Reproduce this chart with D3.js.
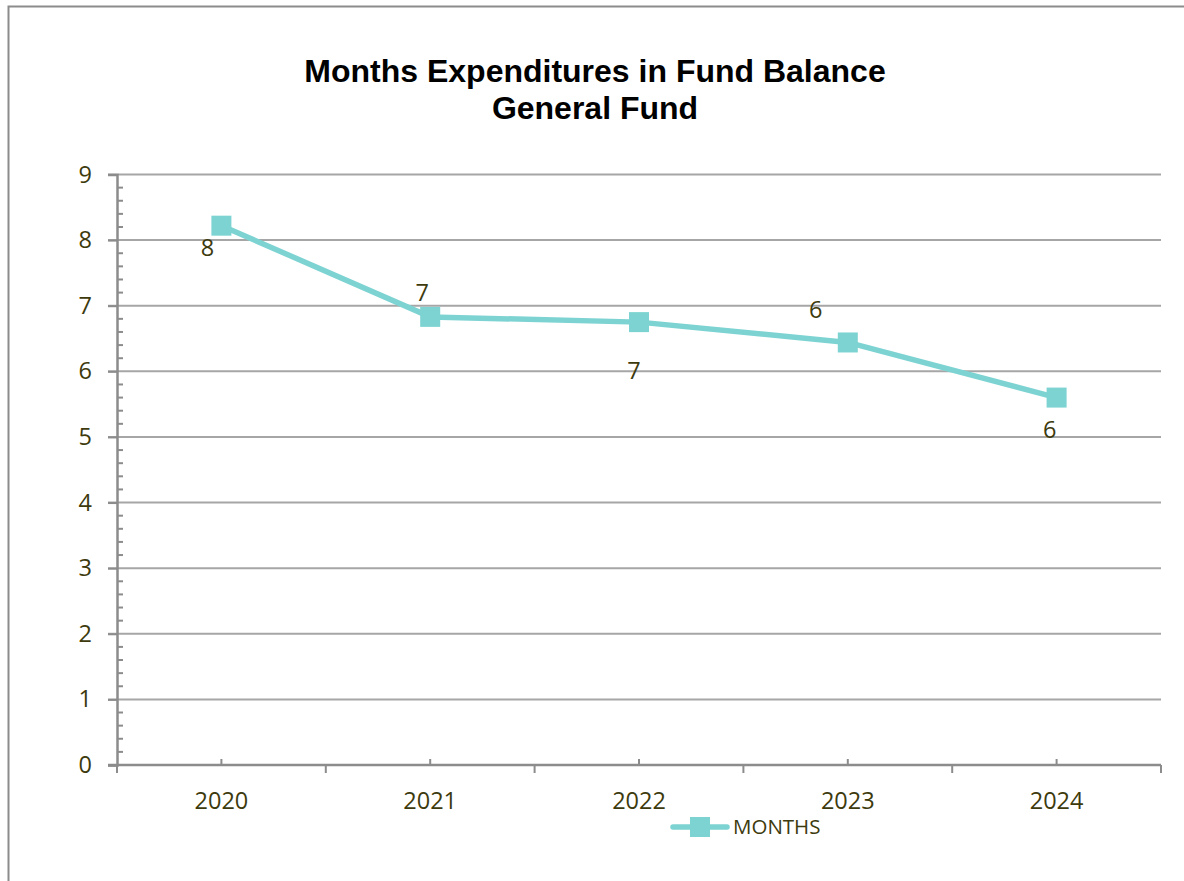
<!DOCTYPE html>
<html>
<head>
<meta charset="utf-8">
<script src="https://cdn.jsdelivr.net/npm/d3@7"></script>
<style>
  html, body { margin: 0; padding: 0; background: #fff; }
  svg { display: block; }
</style>
</head>
<body>
<svg id="chart" width="1184" height="881"></svg>
<script>
// ---- data ----
const categories = ["2020", "2021", "2022", "2023", "2024"];
const months = [8.22, 6.83, 6.75, 6.44, 5.60];
const dataLabels = ["8", "7", "7", "6", "6"];
const yTicks = [0, 1, 2, 3, 4, 5, 6, 7, 8, 9];
const seriesName = "MONTHS";
const titleLines = ["Months Expenditures in Fund Balance", "General Fund"];

// ---- style ----
const lineColor = "#7dd3d2";
const textColor = "#3d3a0e";
const gridColor = "#a6a6a6";
const axisColor = "#8c8c8c";
const font = "'Open Sans', 'DejaVu Sans', sans-serif";
const titleFont = "'Liberation Sans', Arial, sans-serif";
// per-point label offsets (dx, dy of label centre relative to marker)
const labelOffsets = [[-14, 22], [-8, -24], [-5, 49], [-32, -33], [-7, 32]];

const svg = d3.select("#chart");

// outer chart border
svg.append("path")
  .attr("d", "M8.5,881 L8.5,6.5 L1184,6.5")
  .attr("fill", "none").attr("stroke", "#8c8c8c").attr("stroke-width", 2);

const plot = { left: 117, right: 1161, top: 174.5, bottom: 765 };

const x = d3.scaleBand().domain(categories).range([plot.left, plot.right]).paddingInner(0).paddingOuter(0);
const y = d3.scaleLinear().domain([0, 9]).range([plot.bottom, plot.top]);

// title
svg.append("g").selectAll("text").data(titleLines).join("text")
  .attr("x", 595).attr("y", (d, i) => 82 + i * 37)
  .attr("text-anchor", "middle")
  .attr("font-family", titleFont).attr("font-weight", "bold").attr("font-size", 32)
  .attr("fill", "#000").text(d => d);

// gridlines
svg.append("g").selectAll("line").data(yTicks.filter(d => d > 0)).join("line")
  .attr("x1", plot.left - 9).attr("x2", plot.right)
  .attr("y1", d => y(d)).attr("y2", d => y(d))
  .attr("stroke", gridColor).attr("stroke-width", 2);

// y minor ticks (inside)
const minor = d3.range(0, 9.001, 0.2).filter(v => Math.abs(v - Math.round(v)) > 1e-6);
svg.append("g").selectAll("line").data(minor).join("line")
  .attr("x1", plot.left).attr("x2", plot.left + 6)
  .attr("y1", d => y(d)).attr("y2", d => y(d))
  .attr("stroke", axisColor).attr("stroke-width", 2);

// y axis
const yAxis = d3.axisLeft(y).tickValues(yTicks).tickSize(9).tickPadding(16).tickFormat(d3.format("d"));
const yg = svg.append("g").attr("transform", `translate(${plot.left},0)`).call(yAxis);
yg.select(".domain").attr("stroke", axisColor).attr("stroke-width", 2.5);
yg.selectAll(".tick line").attr("stroke", axisColor).attr("stroke-width", 2);
yg.selectAll(".tick text").attr("font-family", font).attr("font-size", 23.5).attr("fill", textColor);

// x axis: major ticks at category boundaries (outside), minor at centres (inside)
const xg = svg.append("g").attr("transform", `translate(0,${plot.bottom})`);
xg.append("line").attr("x1", plot.left - 9).attr("x2", plot.right)
  .attr("y1", 0).attr("y2", 0).attr("stroke", axisColor).attr("stroke-width", 2.5);
const bounds = categories.map(c => x(c)).concat([x(categories[categories.length - 1]) + x.bandwidth()]);
xg.selectAll("line.major").data(bounds).join("line").attr("class", "major")
  .attr("x1", d => d).attr("x2", d => d).attr("y1", 0).attr("y2", 8)
  .attr("stroke", axisColor).attr("stroke-width", 2);
xg.selectAll("line.minor").data(categories).join("line").attr("class", "minor")
  .attr("x1", d => x(d) + x.bandwidth() / 2).attr("x2", d => x(d) + x.bandwidth() / 2)
  .attr("y1", 0).attr("y2", -6)
  .attr("stroke", axisColor).attr("stroke-width", 2);
xg.selectAll("text").data(categories).join("text")
  .attr("x", d => x(d) + x.bandwidth() / 2).attr("y", 44)
  .attr("text-anchor", "middle")
  .attr("font-family", font).attr("font-size", 23.5).attr("fill", textColor)
  .text(d => d);

// series line
const cx = (d, i) => x(categories[i]) + x.bandwidth() / 2;
const line = d3.line().x((d, i) => cx(d, i)).y(d => y(d));
svg.append("path").datum(months)
  .attr("d", line).attr("fill", "none")
  .attr("stroke", lineColor).attr("stroke-width", 5.5).attr("stroke-linejoin", "round");

// markers
svg.append("g").selectAll("rect").data(months).join("rect")
  .attr("x", (d, i) => cx(d, i) - 10).attr("y", d => y(d) - 10)
  .attr("width", 20).attr("height", 20)
  .attr("fill", lineColor);

// data labels
svg.append("g").selectAll("text").data(months).join("text")
  .attr("x", (d, i) => cx(d, i) + labelOffsets[i][0])
  .attr("y", (d, i) => y(d) + labelOffsets[i][1])
  .attr("dy", "0.35em")
  .attr("text-anchor", "middle")
  .attr("font-family", font).attr("font-size", 23.5).attr("fill", textColor)
  .text((d, i) => dataLabels[i]);

// legend
const lg = svg.append("g").attr("transform", "translate(700,827)");
lg.append("line").attr("x1", -27).attr("x2", 27).attr("y1", 0).attr("y2", 0)
  .attr("stroke", lineColor).attr("stroke-width", 5.5).attr("stroke-linecap", "round");
lg.append("rect").attr("x", -10).attr("y", -10).attr("width", 20).attr("height", 20).attr("fill", lineColor);
lg.append("text").attr("x", 33).attr("y", 0).attr("dy", "0.35em")
  .attr("font-family", font).attr("font-size", 20.5).attr("fill", textColor).text(seriesName);
</script>
</body>
</html>
